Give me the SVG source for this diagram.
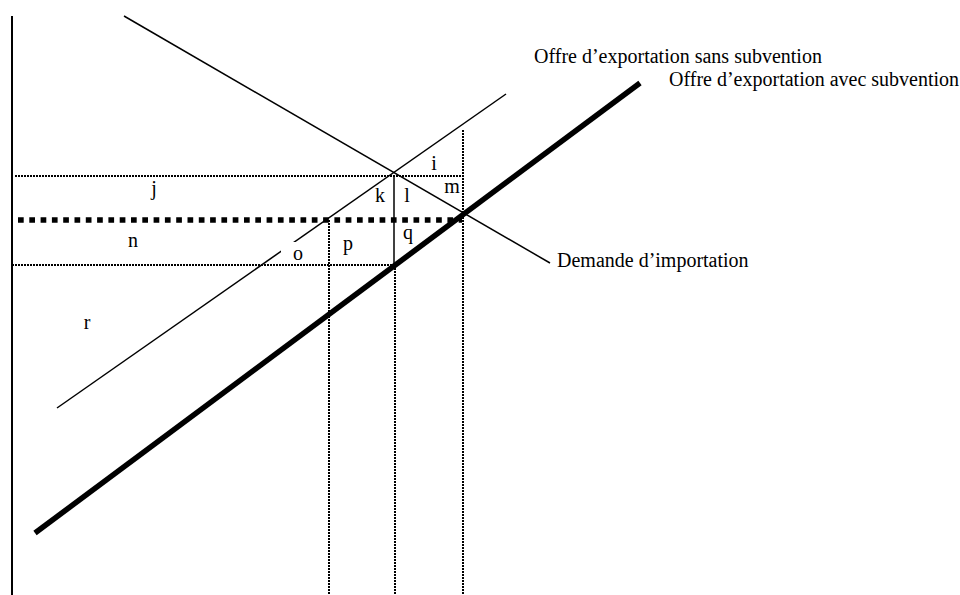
<svg xmlns="http://www.w3.org/2000/svg" width="960" height="595" viewBox="0 0 960 595">
<style>
.ax{stroke:#000;stroke-width:2;fill:none}
.thin{stroke:#000;stroke-width:1.5;fill:none}
.thick{stroke:#000;stroke-width:5.5;fill:none}
.dot{stroke:#000;stroke-width:2;stroke-dasharray:2 1;fill:none}
.bold{stroke:#000;stroke-width:5.5;stroke-dasharray:5.7 5.6;fill:none}
text{font-family:"Liberation Serif","Times New Roman",serif;font-size:20px;fill:#000}
.c{text-anchor:middle}
</style>
<rect width="960" height="595" fill="#fff"/>
<g id="connectors">
<line class="ax" x1="12" y1="16" x2="12" y2="595"/>
<line class="dot" x1="15" y1="176" x2="462" y2="176"/>
<line class="bold" x1="18" y1="220" x2="462" y2="220"/>
<line class="dot" x1="12" y1="265" x2="394" y2="265"/>
<line class="dot" x1="329" y1="220" x2="329" y2="595"/>
<line class="dot" x1="395" y1="265" x2="395" y2="595"/>
<line class="dot" x1="463" y1="130" x2="463" y2="595"/>
<line class="thin" x1="394" y1="175" x2="394" y2="265"/>
<line id="demande" class="thin" x1="124" y1="16" x2="550" y2="263"/>
<line id="offre-sans" class="thin" x1="57" y1="408" x2="506" y2="94"/>
<line id="offre-avec" class="thick" x1="35" y1="533" x2="640" y2="83"/>
<rect x="281" y="242" width="40" height="21" fill="#fff"/>
</g>
<g id="label-sans"><text x="534" y="63">Offre d’exportation sans subvention</text></g>
<g id="label-avec"><text x="669" y="86">Offre d’exportation avec subvention</text></g>
<g id="label-demande"><text x="557" y="267">Demande d’importation</text></g>
<g id="areas">
<text class="c" x="434" y="170">i</text>
<text class="c" x="154" y="195">j</text>
<text class="c" x="380" y="202">k</text>
<text class="c" x="407" y="202">l</text>
<text class="c" x="452" y="193">m</text>
<text class="c" x="133" y="247">n</text>
<text class="c" x="298" y="260">o</text>
<text class="c" x="348" y="250">p</text>
<text class="c" x="408" y="239">q</text>
<text class="c" x="87" y="329">r</text>
</g>
</svg>
